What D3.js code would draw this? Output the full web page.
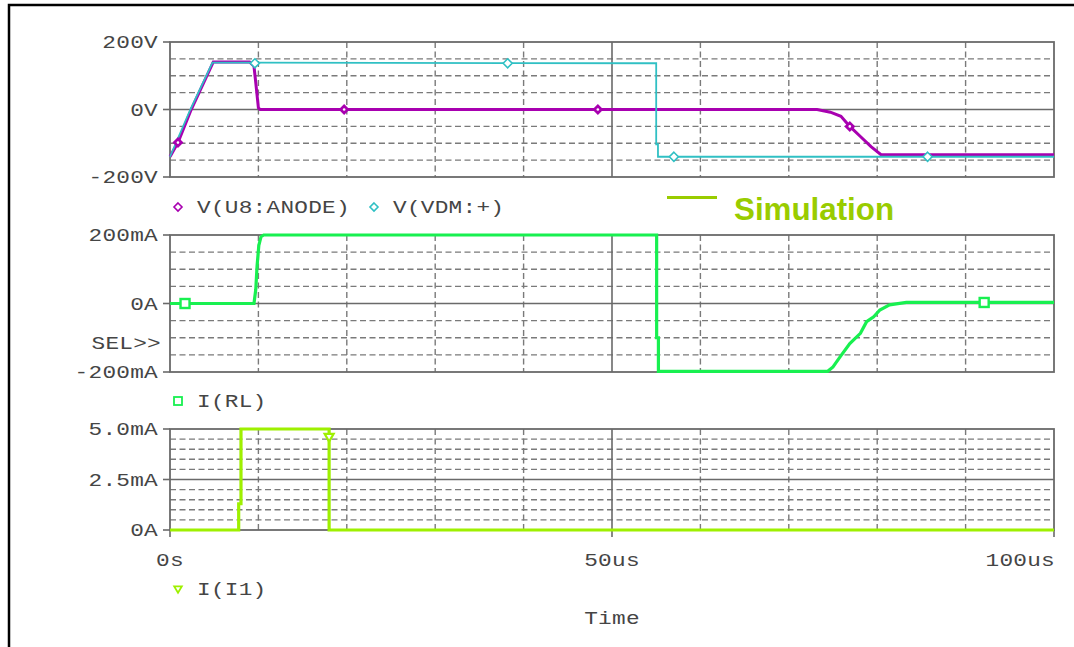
<!DOCTYPE html>
<html>
<head>
<meta charset="utf-8">
<script src="https://cdn.jsdelivr.net/npm/d3@7/dist/d3.min.js"></script>
<style>
  body { margin: 0; background: #fff; }
  svg { display: block; }
  .lbl { font-family: "Liberation Mono", "DejaVu Sans Mono", monospace; font-size: 17.5px; fill: #454545; letter-spacing: 0.2px; }
</style>
</head>
<body>
<div id="chart"></div>
<script>
// time axis (us)
const timeTickVals = [0, 50, 100];
const timeTickLabels = ["0s", "50us", "100us"];
const gridTimes = [10, 20, 30, 40, 60, 70, 80, 90];

// V(U8:ANODE)
const anodeT = [0, 0.9, 2.4, 4.9, 9.0, 9.5, 9.7, 10.0, 10.2, 73.2, 74.7, 75.9, 76.9, 78.1, 79.3, 80.4, 82, 100];
const anodeV = [-140, -98, 0, 141, 141, 128, 80, 5, 0, 0, -8, -20, -50, -80, -110, -133, -134, -134];
const anodeMarkT = [0.9, 19.7, 48.4, 76.9];
const anodeMarkV = [-98, 0, 0, -50];

// V(VDM:+)
const vdmT = [0, 2.3, 4.8, 55.0, 55.0, 55.2, 55.2, 100];
const vdmV = [-140, 0, 139, 137, -103, -103, -140, -140];
const vdmMarkT = [9.6, 38.2, 57.0, 85.7];
const vdmMarkV = [137, 137, -140, -140];

// I(RL) in mA
const rlT = [0, 9.5, 9.7, 9.85, 10.05, 10.3, 10.6, 55.05, 55.05, 55.25, 55.25, 74.4, 75.0, 75.8, 76.9, 78.1, 78.8, 79.6, 80.3, 81.4, 83.3, 100];
const rlI = [0, 0, 40, 110, 170, 195, 200, 200, -100, -100, -198, -198, -185, -156, -117, -87, -53, -39, -19, -4, 3, 3];
const rlMarkT = [1.7, 92.1];
const rlMarkI = [0, 3];

// I(I1) in mA
const i1T = [0, 7.77, 7.77, 8.03, 8.03, 18.0, 18.0, 100];
const i1I = [0, 0, 1.3, 1.3, 5, 5, 0, 0];
const i1MarkT = [18.0];
const i1MarkI = [4.6];

// y axis labels per panel
const vTickVals = [200, 0, -200];
const vTickLabels = ["200V", "0V", "-200V"];
const rlTickVals = [200, 0, -200];
const rlTickLabels = ["200mA", "0A", "-200mA"];
const i1TickVals = [5, 2.5, 0];
const i1TickLabels = ["5.0mA", "2.5mA", "0A"];

const W = 1074, H = 647;
const svg = d3.select("#chart").append("svg").attr("width", W).attr("height", H);

const x = d3.scaleLinear().domain([0, 100]).range([170, 1054]);
const gridCol = "#7a7a7a";
const axisCol = "#6a6a6a";

// outer frame
svg.append("path").attr("d", `M9,${H} L9,5 L${W},5`)
    .attr("fill", "none").attr("stroke", "#000").attr("stroke-width", 2.5);

// wide mono label (bitmap-ish look)
function label(px, py, str, anchor) {
    return svg.append("text").attr("class", "lbl")
        .attr("transform", `translate(${px},${py}) scale(1.3,1)`)
        .attr("dy", "0.35em").attr("text-anchor", anchor || "start").text(str);
}

//draw one panel frame + grid
function panel(y, minor, solid, tickVals, tickLabels) {
    const g = svg.append("g");
    const [d0, d1] = y.domain();
    const top = y(d1), bot = y(d0);

    // dashed horizontal grid
    minor.forEach(v => {
        g.append("line").attr("x1", x(0)).attr("x2", x(100)).attr("y1", y(v)).attr("y2", y(v))
            .attr("stroke", gridCol).attr("stroke-width", 1.4).attr("stroke-dasharray", "6,3.5");
    });
    // dashed vertical grid
    gridTimes.forEach(t => {
        g.append("line").attr("x1", x(t)).attr("x2", x(t)).attr("y1", top).attr("y2", bot)
            .attr("stroke", gridCol).attr("stroke-width", 1.4).attr("stroke-dasharray", "6,3.5");
    });
    // solid lines
    solid.forEach(v => {
        g.append("line").attr("x1", x(0)).attr("x2", x(100)).attr("y1", y(v)).attr("y2", y(v))
            .attr("stroke", axisCol).attr("stroke-width", 1.6);
    });
    g.append("line").attr("x1", x(50)).attr("x2", x(50)).attr("y1", top).attr("y2", bot)
        .attr("stroke", axisCol).attr("stroke-width", 1.6);
    g.append("rect").attr("x", x(0)).attr("y", top).attr("width", x(100) - x(0)).attr("height", bot - top)
        .attr("fill", "none").attr("stroke", axisCol).attr("stroke-width", 1.8);

    // left ticks and labels
    tickVals.forEach((v, i) => {
        g.append("line").attr("x1", x(0) - 7).attr("x2", x(0)).attr("y1", y(v)).attr("y2", y(v))
            .attr("stroke", axisCol).attr("stroke-width", 1.6);
        label(158, y(v), tickLabels[i], "end");
    });
    return g;
}

const yV = d3.scaleLinear().domain([-200, 200]).range([177, 42]);
const yR = d3.scaleLinear().domain([-200, 200]).range([372, 235]);
const yI = d3.scaleLinear().domain([0, 5]).range([530, 429]);

panel(yV, [150, 100, 50, -50, -100, -150], [0], vTickVals, vTickLabels);
panel(yR, [150, 100, 50, -50, -100, -150], [0], rlTickVals, rlTickLabels);
panel(yI, d3.range(0.5, 5, 0.5).filter(v => Math.abs(v - 2.5) > 0.01), [2.5], i1TickVals, i1TickLabels);

// x ticks on bottom panel
timeTickVals.forEach((t, i) => {
    svg.append("line").attr("x1", x(t)).attr("x2", x(t)).attr("y1", yI(0)).attr("y2", yI(0) + 7)
        .attr("stroke", axisCol).attr("stroke-width", 1.6);
    label(i === 2 ? x(t) + 1 : x(t), 560, timeTickLabels[i], i === 2 ? "end" : "middle");
});
label(x(50), 618, "Time", "middle");
label(161, 343, "SEL>>", "end");

// traces
function trace(ts, vs, y, col, w) {
    const line = d3.line().x(d => x(d[0])).y(d => y(d[1]));
    svg.append("path").datum(ts.map((t, i) => [t, vs[i]]))
        .attr("d", line).attr("fill", "none").attr("stroke", col)
        .attr("stroke-width", w).attr("stroke-linejoin", "miter");
}

const purple = "#a800b0", cyan = "#30c0c4", green = "#18f050", yellow = "#9ef000";

trace(anodeT, anodeV, yV, purple, 3);
trace(vdmT, vdmV, yV, cyan, 1.8);
trace(rlT, rlI, yR, green, 3.2);
trace(i1T, i1I, yI, yellow, 3.2);

// markers
function diamond(cx, cy, r) { return `M${cx},${cy - r}L${cx + r},${cy}L${cx},${cy + r}L${cx - r},${cy}Z`; }
function tri(cx, cy, r) { return `M${cx - r},${cy - r * 0.7}L${cx + r},${cy - r * 0.7}L${cx},${cy + r}Z`; }

anodeMarkT.forEach((t, i) => {
    svg.append("path").attr("d", diamond(x(t), yV(anodeMarkV[i]), 5.5)).attr("fill", purple);
    svg.append("circle").attr("cx", x(t)).attr("cy", yV(anodeMarkV[i])).attr("r", 1.3).attr("fill", "#fff");
});
vdmMarkT.forEach((t, i) => {
    svg.append("path").attr("d", diamond(x(t), yV(vdmMarkV[i]), 4.5))
        .attr("fill", "#fff").attr("stroke", cyan).attr("stroke-width", 1.6);
});
rlMarkT.forEach((t, i) => {
    svg.append("rect").attr("x", x(t) - 4.5).attr("y", yR(rlMarkI[i]) - 4.5).attr("width", 9).attr("height", 9)
        .attr("fill", "#fff").attr("stroke", green).attr("stroke-width", 2.4);
});
i1MarkT.forEach((t, i) => {
    svg.append("path").attr("d", tri(x(t), yI(i1MarkI[i]), 4.5))
        .attr("fill", "#fff").attr("stroke", yellow).attr("stroke-width", 2.2);
});

// legends
const legends = [
    {sym: "diamond", col: purple, x: 178, y: 207, text: "V(U8:ANODE)"},
    {sym: "diamond", col: cyan, x: 374, y: 207, text: "V(VDM:+)"},
    {sym: "square", col: green, x: 178, y: 401, text: "I(RL)"},
    {sym: "tri", col: yellow, x: 178, y: 589, text: "I(I1)"}
];
legends.forEach(l => {
    if (l.sym === "diamond") {
        svg.append("path").attr("d", diamond(l.x, l.y, 4)).attr("fill", "#fff").attr("stroke", l.col).attr("stroke-width", 1.6);
    } else if (l.sym === "square") {
        svg.append("rect").attr("x", l.x - 4).attr("y", l.y - 4).attr("width", 8).attr("height", 8)
            .attr("fill", "#fff").attr("stroke", l.col).attr("stroke-width", 1.8);
    } else {
        svg.append("path").attr("d", tri(l.x, l.y, 3.8)).attr("fill", "#fff").attr("stroke", l.col).attr("stroke-width", 1.8);
    }
    label(l.x + 19, l.y, l.text);
});

// Simulation annotation
svg.append("line").attr("x1", 667).attr("x2", 717).attr("y1", 197.5).attr("y2", 197.5)
    .attr("stroke", "#99cc00").attr("stroke-width", 3);
svg.append("text").attr("x", 734).attr("y", 220).attr("fill", "#99cc00")
    .style("font-family", "Arial, 'Liberation Sans', sans-serif").style("font-weight", "bold").style("font-size", "31px")
    .attr("textLength", 160).attr("lengthAdjust", "spacingAndGlyphs")
    .text("Simulation");
</script>
</body>
</html>
